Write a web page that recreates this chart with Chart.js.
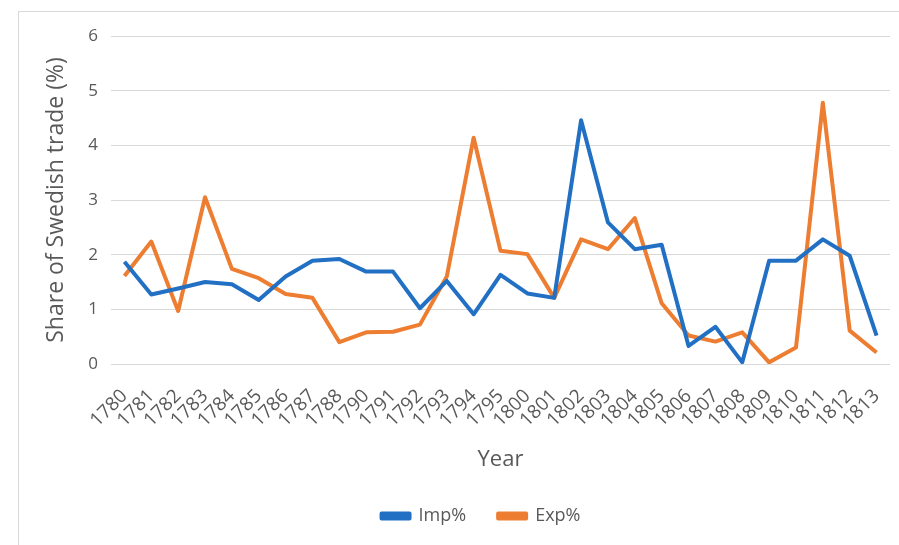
<!DOCTYPE html>
<html>
<head>
<meta charset="utf-8">
<script src="https://cdn.jsdelivr.net/npm/chart.js@4/dist/chart.umd.min.js"></script>
<style>
  html, body { margin: 0; padding: 0; background: #fff; }
  #wrap { position: relative; width: 899px; height: 545px; }
  #frame { position: absolute; left: 18px; top: 11px; width: 881px; height: 534px;
           border-left: 1px solid #d9d9d9; border-top: 1px solid #d9d9d9; box-sizing: border-box; }
  canvas { position: absolute; left: 0; top: 0; }
</style>
</head>
<body>
<div id="wrap">
  <div id="frame"></div>
  <canvas id="c" width="899" height="545"></canvas>
</div>
<script>
const years = ['1780','1781','1782','1783','1784','1785','1786','1787','1788','1790','1791','1792','1793','1794','1795','1800','1801','1802','1803','1804','1805','1806','1807','1808','1809','1810','1811','1812','1813'];
const impPct = [1.87,1.27,1.38,1.50,1.46,1.17,1.60,1.89,1.92,1.69,1.69,1.02,1.52,0.91,1.63,1.29,1.21,4.46,2.59,2.10,2.18,0.33,0.68,0.03,1.89,1.89,2.28,1.98,0.52];
const expPct = [1.61,2.24,0.97,3.05,1.74,1.57,1.28,1.21,0.40,0.58,0.59,0.72,1.60,4.14,2.07,2.01,1.21,2.28,2.10,2.67,1.11,0.52,0.41,0.58,0.03,0.30,4.78,0.61,0.21];
const yTicks = [0,1,2,3,4,5,6];

const textColor = '#595959';
const fontFamily = '"Open Sans", "Noto Sans", sans-serif';

// shift the legend box (position only) after layout
const legendShift = {
  id: 'legendShift',
  afterLayout(chart) {
    const lg = chart.legend;
    if (!lg) return;
    lg.left = 72; lg.right = 890;
    lg.top -= 10; lg.bottom -= 10;
  }
};

new Chart(document.getElementById('c'), {
  type: 'line',
  data: {
    labels: years,
    datasets: [
      { label: 'Imp%', data: impPct, borderColor: '#2270c4', backgroundColor: '#2270c4',
        borderWidth: 4, pointRadius: 0, tension: 0, borderJoinStyle: 'round' },
      { label: 'Exp%', data: expPct, borderColor: '#ed7d31', backgroundColor: '#ed7d31',
        borderWidth: 4, pointRadius: 0, tension: 0, borderJoinStyle: 'round' }
    ]
  },
  plugins: [legendShift],
  options: {
    responsive: false,
    animation: false,
    devicePixelRatio: 1,
    layout: { padding: { left: 0, right: 9, top: 36, bottom: 0 } },
    plugins: {
      legend: {
        position: 'bottom',
        labels: { color: textColor, font: { family: fontFamily, size: 18 },
                  boxWidth: 28, boxHeight: 5, padding: 32 }
      },
      tooltip: { enabled: false }
    },
    scales: {
      x: {
        offset: true,
        grid: { display: false, drawTicks: false },
        border: { display: false },
        ticks: { color: textColor, font: { family: fontFamily, size: 19 },
                 minRotation: 45, maxRotation: 45, autoSkip: false, padding: 21 },
        title: { display: true, text: 'Year', color: textColor,
                 font: { family: fontFamily, size: 22 }, padding: { top: 4, bottom: 12 } },
        afterFit: (s) => { s.height = 121; s.paddingLeft = 0; s.paddingRight = 0; }
      },
      y: {
        min: 0, max: 6,
        afterBuildTicks: (s) => { s.ticks = yTicks.map(v => ({ value: v })); },
        grid: { color: '#d9d9d9', lineWidth: 1, drawTicks: false },
        border: { display: false },
        ticks: { color: textColor, font: { family: fontFamily, size: 17 }, padding: 13 },
        title: { display: true, text: 'Share of Swedish trade (%)', color: textColor,
                 font: { family: fontFamily, size: 23 }, padding: { top: 43, bottom: 0 } },
        afterFit: (s) => { s.width = 111; s.paddingTop = 0; s.paddingBottom = 0; }
      }
    }
  }
});
</script>
</body>
</html>
